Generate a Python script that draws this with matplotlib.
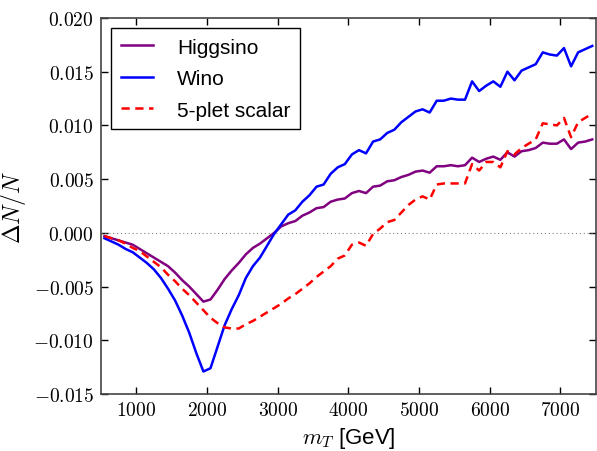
import numpy as np
import matplotlib
matplotlib.use("Agg")
import matplotlib.pyplot as plt
from matplotlib.ticker import FuncFormatter

plt.rcParams['mathtext.fontset'] = 'cm'
plt.rcParams['font.family'] = ['Liberation Sans', 'DejaVu Sans']

# bin centres [GeV]
m_T = np.arange(550, 7451, 100)

higgsino = [
    -0.0003, -0.0005, -0.0007, -0.0009, -0.0011, -0.0015, -0.0019, -0.0023, -0.0027, -0.0031,
    -0.0037, -0.0044, -0.0050, -0.0057, -0.0064, -0.0062, -0.0053, -0.0043, -0.0035, -0.0028,
    -0.0020, -0.0014, -0.0010, -0.0005, 0.0000, 0.0006, 0.0009, 0.0011, 0.0016, 0.0019,
    0.0023, 0.0024, 0.0029, 0.0031, 0.0032, 0.0037, 0.0039, 0.0037, 0.0043, 0.0044,
    0.0048, 0.0049, 0.0052, 0.0054, 0.0057, 0.0058, 0.0056, 0.0062, 0.0062, 0.0063,
    0.0062, 0.0063, 0.0070, 0.0066, 0.0069, 0.0071, 0.0068, 0.0075, 0.0071, 0.0076,
    0.0077, 0.0079, 0.0084, 0.0083, 0.0083, 0.0087, 0.0078, 0.0084, 0.0085, 0.0087,
]

wino = [
    -0.0005, -0.0008, -0.0011, -0.0015, -0.0018, -0.0023, -0.0028, -0.0034, -0.0042, -0.0052,
    -0.0063, -0.0077, -0.0093, -0.0112, -0.0129, -0.0126, -0.0106, -0.0086, -0.0071, -0.0058,
    -0.0042, -0.0031, -0.0023, -0.0012, -0.0001, 0.0008, 0.0017, 0.0021, 0.0029, 0.0035,
    0.0043, 0.0045, 0.0055, 0.0061, 0.0064, 0.0073, 0.0077, 0.0074, 0.0085, 0.0087,
    0.0093, 0.0096, 0.0103, 0.0108, 0.0113, 0.0115, 0.0112, 0.0123, 0.0123, 0.0125,
    0.0124, 0.0124, 0.0141, 0.0132, 0.0137, 0.0141, 0.0136, 0.0150, 0.0142, 0.0151,
    0.0154, 0.0157, 0.0168, 0.0166, 0.0165, 0.0172, 0.0155, 0.0168, 0.0171, 0.0174,
]

scalar5 = [
    -0.0003, -0.0005, -0.0007, -0.0010, -0.0014, -0.0017, -0.0022, -0.0027, -0.0032, -0.0039,
    -0.0045, -0.0052, -0.0058, -0.0065, -0.0072, -0.0079, -0.0084, -0.0088, -0.0089, -0.0089,
    -0.0085, -0.0082, -0.0078, -0.0074, -0.0070, -0.0066, -0.0061, -0.0057, -0.0052, -0.0047,
    -0.0041, -0.0036, -0.0031, -0.0024, -0.0021, -0.0011, -0.0009, -0.0012, -0.0001, 0.0004,
    0.0010, 0.0012, 0.0019, 0.0026, 0.0031, 0.0034, 0.0031, 0.0045, 0.0046, 0.0046,
    0.0046, 0.0046, 0.0064, 0.0058, 0.0066, 0.0066, 0.0061, 0.0076, 0.0073, 0.0079,
    0.0083, 0.0087, 0.0102, 0.0101, 0.0100, 0.0107, 0.0089, 0.0103, 0.0107, 0.0111,
]

xticks = [1000, 2000, 3000, 4000, 5000, 6000, 7000]
yticks = [-0.015, -0.010, -0.005, 0.000, 0.005, 0.010, 0.015, 0.020]

fig = plt.figure(figsize=(5.97, 4.52), dpi=100)
ax = fig.add_axes([0.169, 0.126, 0.829, 0.832])

ax.axhline(0, color='gray', lw=0.8, ls=(0, (1, 2.5)))
ax.plot(m_T, higgsino, color='purple', lw=1.8, label='Higgsino')
ax.plot(m_T, wino, color='blue', lw=1.8, label='Wino')
ax.plot(m_T, scalar5, color='red', lw=1.8, ls=(0, (3.3, 2.2)), label='5-plet scalar')

ax.set_xlim(500, 7500)
ax.set_ylim(-0.015, 0.020)
ax.set_xticks(xticks)
ax.set_yticks(yticks)
ax.xaxis.set_major_formatter(FuncFormatter(lambda v, p: r'$%d$' % v))
ax.yaxis.set_major_formatter(FuncFormatter(lambda v, p: r'$%.3f$' % v))
ax.tick_params(direction='in', length=5, width=1, top=True, right=True,
               labelsize=14, pad=5)
for s in ax.spines.values():
    s.set_color('#444444')
    s.set_linewidth(1.2)

ax.set_xlabel(r'$m_T$ [GeV]', fontsize=16)
ax.set_ylabel(r'$\Delta N/N$', fontsize=17)

leg = ax.legend(loc='upper left', fontsize=15, fancybox=False, framealpha=1,
                edgecolor='black', handlelength=1.55, borderpad=0.45,
                labelspacing=0.6, handletextpad=1.15, borderaxespad=0.5)
leg.get_frame().set_linewidth(1.0)

fig.savefig('out.png', dpi=100)
